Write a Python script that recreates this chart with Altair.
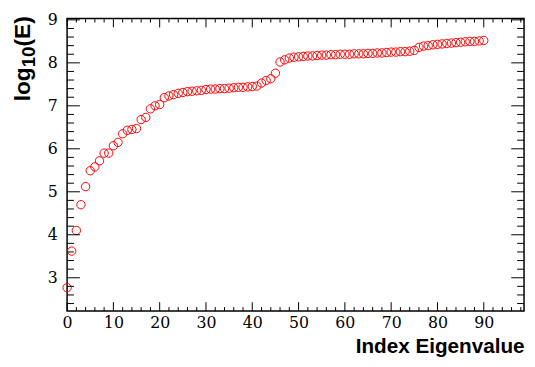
import altair as alt
import pandas as pd

# ---- data ----
values = [
    2.77, 3.62, 4.10, 4.70, 5.12, 5.49, 5.58, 5.72, 5.90, 5.90,
    6.07, 6.15, 6.35, 6.43, 6.45, 6.47, 6.68, 6.73, 6.93, 7.00,
    7.03, 7.19, 7.23, 7.26, 7.29, 7.31, 7.33, 7.34, 7.35, 7.36,
    7.38, 7.39, 7.39, 7.40, 7.40, 7.41, 7.42, 7.43, 7.43, 7.44,
    7.45, 7.46, 7.53, 7.59, 7.63, 7.76, 8.02, 8.07, 8.11, 8.13,
    8.14, 8.15, 8.16, 8.16, 8.17, 8.18, 8.18, 8.19, 8.19, 8.20,
    8.20, 8.20, 8.21, 8.21, 8.21, 8.22, 8.22, 8.23, 8.23, 8.24,
    8.25, 8.25, 8.26, 8.26, 8.27, 8.29, 8.36, 8.39, 8.40, 8.42,
    8.43, 8.44, 8.45, 8.46, 8.47, 8.48, 8.49, 8.50, 8.50, 8.51,
    8.52,
]
indices = list(range(len(values)))

x_major = [0, 10, 20, 30, 40, 50, 60, 70, 80, 90]
x_minor = [v for v in range(0, 99, 2) if v % 10 != 0]
y_major = [3, 4, 5, 6, 7, 8, 9]
y_minor = [2.4, 2.6, 2.8, 3.2, 3.4, 3.6, 3.8, 4.2, 4.4, 4.6, 4.8,
           5.2, 5.4, 5.6, 5.8, 6.2, 6.4, 6.6, 6.8, 7.2, 7.4, 7.6, 7.8,
           8.2, 8.4, 8.6, 8.8]

# y-axis title pieces: main text, subscript, main text
ytitle_parts = ["log", "10", "(E)"]

X_DOMAIN = [0, 98.7]
Y_DOMAIN = [2.225, 9.03]

W, H = 464, 297
SERIF = "DejaVu Serif"
SANS = "Liberation Sans"
LABEL_SIZE = 16

df = pd.DataFrame({"idx": indices, "val": values})
xs = alt.Scale(domain=X_DOMAIN, nice=False, zero=False)
ys = alt.Scale(domain=Y_DOMAIN, nice=False, zero=False)

xaxis = alt.Axis(
    values=x_major, ticks=False, domain=False, grid=False,
    labelFont=SERIF, labelFontSize=LABEL_SIZE, labelColor="black",
    labelPadding=4, labelFlush=False,
    title="Index Eigenvalue", titleFont=SANS, titleFontWeight="bold",
    titleFontSize=21, titleColor="black", titleAnchor="end", titleAlign="right",
    titleX=W, titleY=42, titleBaseline="alphabetic",
)
yaxis = alt.Axis(
    values=y_major, ticks=False, domain=False, grid=False,
    labelFont=SERIF, labelFontSize=LABEL_SIZE, labelColor="black",
    labelPadding=10, labelFlush=False, title=None,
)

points = alt.Chart(df).mark_point(
    shape="circle", filled=False, color="red", size=72, strokeWidth=1, opacity=1
).encode(
    x=alt.X("idx:Q", scale=xs, axis=xaxis),
    y=alt.Y("val:Q", scale=ys, axis=yaxis),
)

def xticks(vals, length):
    d = pd.DataFrame({"t": vals})
    bottom = alt.Chart(d).mark_rule(color="black", strokeWidth=1).encode(
        x=alt.X("t:Q", scale=xs, axis=xaxis), y=alt.value(H), y2=alt.value(H - length))
    top = alt.Chart(d).mark_rule(color="black", strokeWidth=1).encode(
        x=alt.X("t:Q", scale=xs, axis=xaxis), y=alt.value(0), y2=alt.value(length))
    return [bottom, top]

def yticks(vals, length):
    d = pd.DataFrame({"t": vals})
    left = alt.Chart(d).mark_rule(color="black", strokeWidth=1).encode(
        y=alt.Y("t:Q", scale=ys, axis=yaxis), x=alt.value(0), x2=alt.value(length))
    right = alt.Chart(d).mark_rule(color="black", strokeWidth=1).encode(
        y=alt.Y("t:Q", scale=ys, axis=yaxis), x=alt.value(W - length), x2=alt.value(W))
    return [left, right]

# rotated y title built from three pieces (Liberation Sans Bold = Arial Bold metrics)
FS, SFS = 23, 19
Y0 = 84           # start of the title (bottom end), plot coordinates
BX = -38          # baseline x
len_log = 1.5 * FS
len_sub = 1.112 * SFS
title_dummy = pd.DataFrame({"a": [0]})
def ytext(txt, size, y, x):
    return alt.Chart(title_dummy).mark_text(
        text=txt, angle=270, align="left", baseline="alphabetic",
        font=SANS, fontSize=size, fontWeight="bold", color="black",
    ).encode(x=alt.value(x), y=alt.value(y))

title_layers = [
    ytext(ytitle_parts[0], FS, Y0, BX),
    ytext(ytitle_parts[1], SFS, Y0 - len_log, BX + 5),
    ytext(ytitle_parts[2], FS, Y0 - len_log - len_sub, BX),
]

layers = ([points] + xticks(x_major, 9) + xticks(x_minor, 4)
          + yticks(y_major, 13) + yticks(y_minor, 7) + title_layers)

chart = alt.layer(*layers).properties(
    width=W, height=H,
    autosize=alt.AutoSizeParams(type="none"),
    padding={"left": 60, "top": 8, "right": 3, "bottom": 50},
    background="white",
).configure_view(stroke="black", strokeWidth=1.5
).configure_axis(labelFont=SERIF, labelFontSize=LABEL_SIZE)

chart.save("out.html", embed_options={"renderer": "svg", "actions": False})
